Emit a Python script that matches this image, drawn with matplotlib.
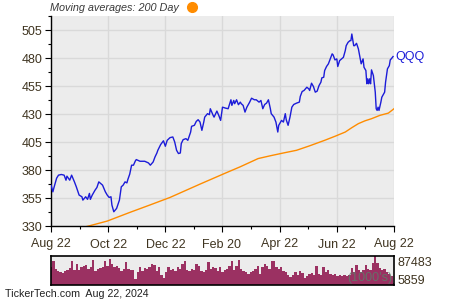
import matplotlib
matplotlib.use("Agg")
import matplotlib.pyplot as plt
import numpy as np

plt.rcParams['font.family'] = ['Liberation Sans', 'DejaVu Sans']

# ---- data (days since 2023-08-22) ----
price_days = [0, 2, 3, 6, 8, 11, 14, 16, 17, 20, 22, 25, 27, 30, 33, 34, 37, 39, 41, 42,
              44, 47, 49, 51, 53, 55, 58, 60, 62, 64, 65, 67, 70, 73, 75, 77, 79, 81, 82, 84,
              86, 88, 90, 91, 95, 100, 104, 106, 109, 111, 113, 114, 117, 120, 122, 124, 127, 130, 132, 134,
              136, 138, 139, 141, 144, 146, 149, 150, 153, 155, 157, 159, 161, 163, 164, 167, 169, 170, 173, 174,
              177, 179, 181, 183, 186, 189, 192, 193, 195, 196, 198, 200, 202, 203, 205, 207, 209, 212, 214, 217,
              219, 222, 224, 226, 228, 230, 232, 234, 235, 238, 240, 242, 243, 246, 248, 250, 251, 253, 255, 257,
              259, 262, 265, 266, 268, 270, 273, 275, 276, 278, 280, 282, 284, 286, 288, 289, 291, 292, 294, 296,
              298, 300, 301, 303, 305, 306, 308, 310, 312, 314, 315, 317, 319, 320, 321, 323, 324, 326, 328, 330,
              331, 333, 334, 336, 337, 338, 339, 340, 341, 342, 344, 346, 347, 348, 349, 350, 352, 353, 356, 357,
              359, 361, 362, 363, 365]
price = [366.5, 360.5, 363.8, 372.7, 375.4, 376.0, 375.4, 370.9, 374.5, 370.9, 375.4, 369.4, 365.0, 357.6, 356.1, 353.1, 356.1, 353.8, 359.1, 353.8,
         357.6, 362.0, 364.4, 369.4, 368.0, 366.5, 360.5, 357.6, 355.5, 356.1, 348.7, 342.7, 345.7, 353.1, 365.0, 366.5, 369.4, 368.5, 371.5, 376.3,
         384.3, 384.3, 388.1, 389.3, 387.8, 387.8, 386.3, 384.3, 387.2, 391.7, 395.2, 397.6, 402.7, 406.1, 401.2, 406.5, 408.9, 409.5, 405.0, 397.6,
         394.7, 395.2, 403.6, 407.1, 408.0, 406.5, 413.9, 419.0, 419.9, 423.4, 424.9, 422.8, 415.4, 422.8, 427.2, 430.3, 429.4, 434.7, 428.8, 427.2,
         432.6, 428.8, 424.3, 436.1, 435.3, 434.7, 442.7, 437.7, 442.1, 439.2, 442.7, 438.3, 440.6, 439.2, 437.7, 431.7, 436.1, 440.6, 444.1, 442.7,
         442.7, 440.6, 442.1, 434.7, 438.5, 439.7, 442.7, 435.0, 430.3, 427.2, 422.8, 413.9, 419.9, 424.3, 422.8, 430.3, 424.9, 419.9, 427.2, 436.1,
         438.5, 439.7, 440.6, 445.7, 450.1, 451.0, 453.9, 452.5, 451.0, 457.5, 454.6, 449.5, 450.4, 455.4, 458.4, 462.3, 462.8, 468.8, 472.4, 474.8,
         479.2, 483.7, 482.8, 478.3, 479.2, 472.4, 477.7, 479.2, 480.6, 486.6, 491.0, 494.0, 495.5, 495.5, 501.4, 491.0, 491.0, 493.1, 488.1, 479.2,
         474.8, 479.2, 471.7, 468.8, 457.0, 461.4, 457.0, 461.4, 457.0, 469.4, 464.3, 449.5, 434.7, 433.2, 436.1, 433.2, 440.6, 445.0, 449.5, 458.4,
         470.3, 473.2, 478.3, 479.2, 481.3]

ma_days = [38, 60, 84, 106, 127, 159, 186, 202, 221, 234, 248, 262, 276, 292, 303, 314, 321, 328, 335, 342, 351, 360, 366]
ma200 = [329.5, 334.4, 342.1, 348.9, 355.5, 367.4, 377.2, 382.9, 390.2, 392.7, 395.2, 397.6, 401.6, 406.5, 410.1, 413.9, 417.8, 421.4, 423.9, 425.8, 428.8, 430.8, 434.7]

volume_k = [53, 71, 48, 43, 38, 35, 43, 46, 50, 73, 46, 63, 46, 55, 58, 61, 48, 53, 75, 43,
            48, 50, 55, 71, 58, 78, 63, 53, 58, 50, 43, 48, 68, 48, 46,
            46, 18, 38, 53, 43, 50, 48, 53, 63, 61, 43, 55, 29, 22, 38, 53, 46, 48, 43, 55,
            48, 63, 73, 46, 41, 48, 46, 63, 58, 43, 38, 46, 68, 48, 53, 50, 43,
            55, 38, 46, 48, 58, 71, 46, 58, 75, 48, 43, 38, 33, 38, 41, 48, 58, 33, 55,
            63, 58, 48, 71, 73, 53, 48, 53, 43, 38, 31, 25, 31, 38, 31, 43, 35, 20, 27,
            33, 35, 30, 58, 33, 31, 55, 38, 45, 33, 30, 33, 28, 30, 28, 31, 27, 29, 50, 38,
            60, 45, 40, 45, 60, 48, 45, 66, 87.483, 66, 52, 45, 48, 40, 33, 28, 5.859]

x_tick_days = [0, 61, 122, 182, 244, 305, 366]
x_tick_labels = ['Aug 22', 'Oct 22', 'Dec 22', 'Feb 20', 'Apr 22', 'Jun 22', 'Aug 22']
x_minor_days = [31, 92, 153, 213, 274, 335]
y_ticks = [330, 355, 380, 405, 430, 455, 480, 505]
vol_labels = ['87483', '5859']

# ---- styling ----
bg = '#ECECEC'
grid_c = '#D9D9D9'
txt_c = '#3F3420'
blue = '#1C1CD8'
orange = '#FF8C00'
vol_c = '#9B3162'

fig = plt.figure(figsize=(4.5, 3.0), dpi=100)
ax = fig.add_axes([51/450, 1-226/300, 343/450, 210/300])
ax.set_facecolor(bg)
ax.plot(price_days, price, color=blue, lw=1.0, zorder=3)
ax.plot(ma_days, ma200, color=orange, lw=1.0, zorder=2)
ax.set_xlim(0, 366)
ax.set_ylim(330, 517)
ax.set_xticks(x_tick_days)
ax.set_xticklabels(x_tick_labels)
ax.set_xticks(x_minor_days, minor=True)
ax.set_yticks(y_ticks)
ax.set_yticks([v + 12.5 for v in y_ticks], minor=True)
ax.grid(True, which='major', color=grid_c, lw=1.0, zorder=0)
for s in ['top', 'right']:
    ax.spines[s].set_visible(False)
for s in ['left', 'bottom']:
    ax.spines[s].set_color('black')
    ax.spines[s].set_linewidth(1.0)
ax.tick_params(axis='both', which='major', length=4, width=0.8, color='black',
               labelsize=9, labelcolor=txt_c, pad=2)
ax.tick_params(axis='both', which='minor', length=2.5, width=0.8, color='black')
ax.tick_params(axis='x', which='major', pad=5)
ax.text(368, price[-1], 'QQQ', color=blue, fontsize=9, va='center', ha='left', clip_on=False)

fig.text(50/450, 1-8/300, 'Moving averages: 200 Day', fontsize=7.8, style='italic',
         color='#3A3A3A', va='center', ha='left')
fig.add_artist(matplotlib.lines.Line2D([192/450], [1-7/300], marker='o', markersize=7,
                                       color=orange, transform=fig.transFigure))

vax = fig.add_axes([51/450, 15/300, 343/450, 29/300])
vax.set_facecolor(bg)
n = len(volume_k)
vx = np.linspace(0, 366, n)
vax.bar(vx, volume_k, width=366/(n-1), color=vol_c, align='center', linewidth=0)
vax.set_xlim(0, 366)
vax.set_ylim(0, 87.483)
vax.set_xticks([])
vax.set_yticks([])
for s in vax.spines.values():
    s.set_color('black')
    s.set_linewidth(1.2)
vax.text(1.01, 0.77, vol_labels[0], transform=vax.transAxes, ha='left', va='center',
         fontsize=9, color=txt_c)
vax.text(1.01, 0.14, vol_labels[1], transform=vax.transAxes, ha='left', va='center',
         fontsize=9, color=txt_c)
vax.text(0.995, 0.02, "(1000's)", transform=vax.transAxes, ha='right', va='bottom',
         fontsize=9, color='#5E7A6A', alpha=0.85)

fig.text(5/450, 1-294/300, 'TickerTech.com  Aug 22, 2024', fontsize=7.7, color='#222222',
         va='center', ha='left')

fig.savefig('out.png', dpi=100)
